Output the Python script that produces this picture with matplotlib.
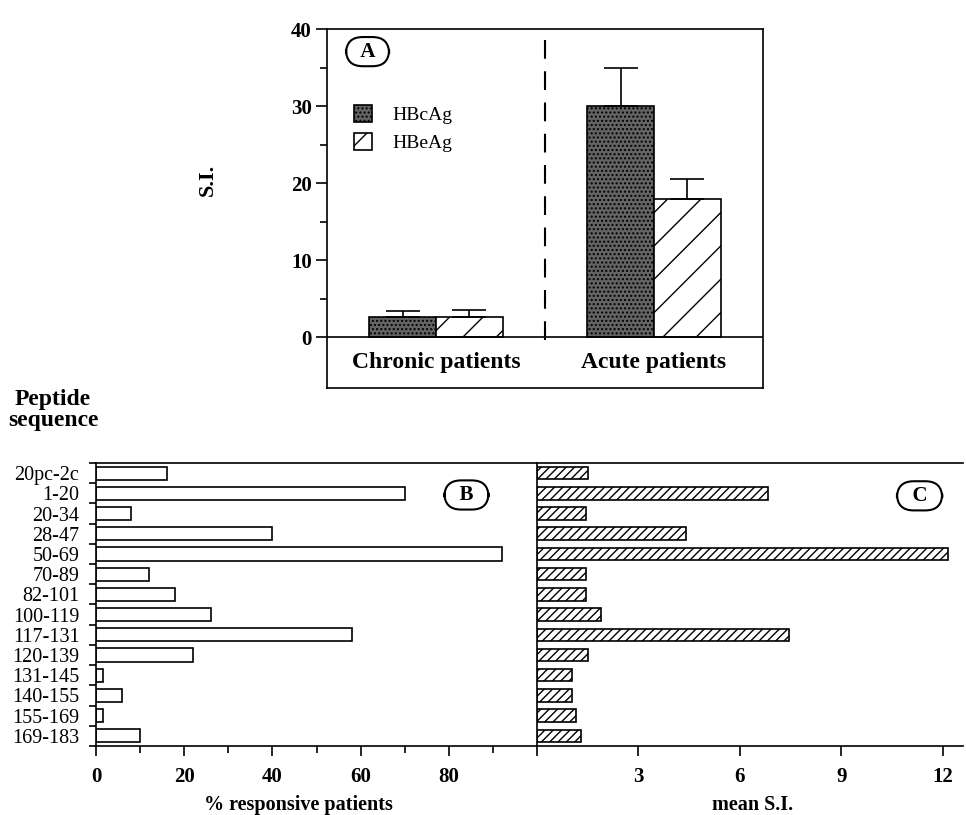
import numpy as np
import matplotlib
matplotlib.use('Agg')
import matplotlib.pyplot as plt
from matplotlib.patches import Patch

plt.rcParams['font.family'] = ['Liberation Serif', 'DejaVu Serif']
plt.rcParams['hatch.linewidth'] = 1.0

# panel A: proliferation to HBcAg / HBeAg
groups = ['Chronic patients', 'Acute patients']
hbc_mean = [2.6, 30.0]
hbc_err = [0.8, 5.0]
hbe_mean = [2.6, 18.0]
hbe_err = [0.9, 2.5]

# panels B and C: peptide responses
peptides = ['20pc-2c', '1-20', '20-34', '28-47', '50-69', '70-89', '82-101',
            '100-119', '117-131', '120-139', '131-145', '140-155', '155-169',
            '169-183']
pct_resp = [16, 70, 8, 40, 92, 12, 18, 26, 58, 22, 1.5, 6, 1.5, 10]
mean_si = [1.5, 6.83, 1.45, 4.4, 12.17, 1.45, 1.45, 1.9, 7.45, 1.5,
           1.05, 1.05, 1.15, 1.3]

LW = 1.2
TICK_FS = 15
fig = plt.figure(figsize=(9.66, 8.15), dpi=100)


def box_label(ax, x, y, s):
    ax.text(x, y, '  ' + s + '  ', transform=ax.transAxes, ha='center',
            va='center', fontsize=15, fontweight='bold',
            bbox=dict(boxstyle='round,pad=0.22,rounding_size=0.8',
                      fc='white', ec='black', lw=1.5))


# ---- panel A
axA = fig.add_axes([0.3385, 0.5239, 0.4514, 0.4405])
x = np.arange(len(groups))
w = 0.307
ekw = dict(ecolor='black', elinewidth=LW, capthick=LW)
axA.bar(x - w / 2, hbc_mean, w, yerr=[np.zeros(2), hbc_err], capsize=12,
        facecolor='#646464', edgecolor='black', hatch='....', lw=LW,
        error_kw=ekw, zorder=2)
axA.bar(x + w / 2, hbe_mean, w, yerr=[np.zeros(2), hbe_err], capsize=12,
        facecolor='white', edgecolor='black', hatch='/', lw=LW,
        error_kw=ekw, zorder=2)
axA.axhline(0, color='black', lw=LW, zorder=3)
axA.plot([0.5, 0.5], [-0.4, 40], color='black', lw=1.5,
         linestyle=(0, (9, 6)))
axA.set_xlim(-0.5, 1.5)
axA.set_ylim(-6.6, 40)
axA.set_xticks([])
axA.set_yticks([0, 10, 20, 30, 40])
axA.set_yticks([5, 15, 25, 35], minor=True)
axA.tick_params(axis='y', which='major', direction='out', length=8,
                width=LW, labelsize=TICK_FS, pad=3)
axA.tick_params(axis='y', which='minor', direction='out', length=5, width=LW)
for lab in axA.get_yticklabels():
    lab.set_fontweight('bold')
for s in axA.spines.values():
    s.set_linewidth(LW)
for i, g in enumerate(groups):
    axA.text(x[i], -3.25, g, ha='center', va='center', fontsize=17,
             fontweight='bold')
axA.set_ylabel('S.I.', fontsize=16, fontweight='bold')
axA.yaxis.set_label_coords(-0.25, 0.58)
handles = [Patch(facecolor='#646464', edgecolor='black', hatch='....',
                 lw=LW, label='HBcAg'),
           Patch(facecolor='white', edgecolor='black', hatch='/',
                 lw=LW, label='HBeAg')]
axA.legend(handles=handles, loc='upper left', bbox_to_anchor=(0.022, 0.838),
           frameon=False, fontsize=14, handlelength=0.9, handleheight=1.0,
           handletextpad=1.05, labelspacing=0.45)
box_label(axA, 0.093, 0.937, 'A')

# ---- panel B
y = np.arange(len(peptides))
axB = fig.add_axes([0.0994, 0.0847, 0.4565, 0.3472])
axB.barh(y, pct_resp, height=0.65, facecolor='white', edgecolor='black',
         lw=LW)
axB.set_xlim(0, 100)
axB.set_ylim(len(peptides) - 0.5, -0.5)
axB.set_yticks(y)
axB.set_yticklabels(peptides)
axB.set_yticks(np.arange(-0.5, len(peptides)), minor=True)
axB.tick_params(axis='y', which='major', length=0, labelsize=14.5, pad=12)
axB.tick_params(axis='y', which='minor', direction='out', length=5, width=LW)
axB.set_xticks([0, 20, 40, 60, 80])
axB.set_xticks([10, 30, 50, 70, 90], minor=True)
axB.tick_params(axis='x', which='major', direction='out', length=7,
                width=LW, labelsize=TICK_FS, pad=8)
axB.tick_params(axis='x', which='minor', direction='out', length=5, width=LW)
for lab in axB.get_xticklabels():
    lab.set_fontweight('bold')
axB.spines['right'].set_visible(False)
for s in axB.spines.values():
    s.set_linewidth(LW)
box_label(axB, 0.84, 0.887, 'B')
fig.text(0.055, 0.497, 'Peptide\nsequence', ha='center', va='center',
         fontsize=17, fontweight='bold', linespacing=1.05)
fig.text(0.309, 0.0125, '% responsive patients', ha='center', va='center',
         fontsize=14.5, fontweight='bold')

# ---- panel C
axC = fig.add_axes([0.5559, 0.0847, 0.441, 0.3472])
axC.barh(y, mean_si, height=0.62, facecolor='white', edgecolor='black',
         hatch='////', lw=LW)
axC.set_xlim(0, 12.6)
axC.set_ylim(len(peptides) - 0.5, -0.5)
axC.set_yticks([])
axC.set_xticks([0, 3, 6, 9, 12])
axC.set_xticklabels(['', '3', '6', '9', '12'])
axC.tick_params(axis='x', direction='out', length=7, width=LW,
                labelsize=TICK_FS, pad=8)
for lab in axC.get_xticklabels():
    lab.set_fontweight('bold')
axC.spines['right'].set_visible(False)
for s in axC.spines.values():
    s.set_linewidth(LW)
fig.text(0.779, 0.0125, 'mean S.I.', ha='center', va='center',
         fontsize=14.5, fontweight='bold')
box_label(axC, 0.898, 0.884, 'C')

fig.savefig('out.png', dpi=100)
